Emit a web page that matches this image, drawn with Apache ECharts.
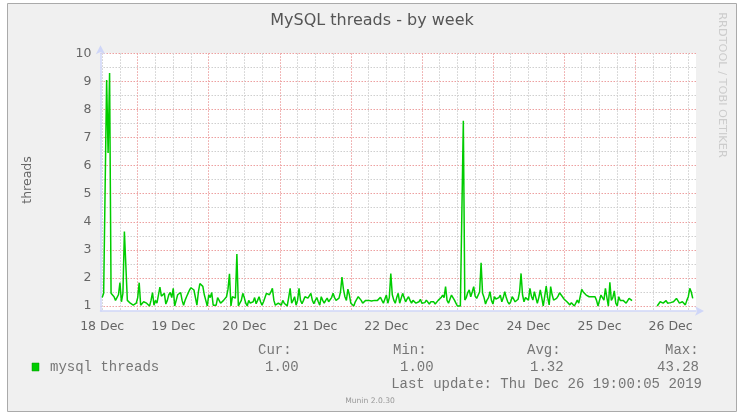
<!DOCTYPE html>
<html>
<head>
<meta charset="utf-8">
<script src="https://cdn.jsdelivr.net/npm/echarts@6/dist/echarts.min.js"></script>
<style>
  html, body { margin: 0; padding: 0; background: #ffffff; }
  #chart { width: 741px; height: 414px; }
</style>
</head>
<body>
<div id="chart"></div>
<script>
// hours since 18 Dec 00:00, one sample every 30 minutes
const startHour = 12;
const stepHours = 0.5;
const threads = [
  1.3, 1.45, 1.4, 9.05, 6.45, 9.3, 1.45, 1.4, 1.33, 1.2,
  1.15, 1.4, 1.83, 1.15, 1.45, 3.65, 3.6, 1.2, 1.15, 1.1,
  1.05, 1.03, 1.1, 1.1, 1.3, 1.83, 1.03, 1.1, 1.15, 1.12,
  1.1, 1.05, 1.0, 1.2, 1.48, 1.03, 1.2, 1.1, 1.03, 1.67,
  1.35, 1.28, 1.45, 1.07, 1.2, 1.4, 1.48, 1.3, 1.63, 1.0,
  1.2, 1.4, 1.45, 1.48, 1.2, 1.03, 1.2, 1.33, 1.45, 1.57,
  1.65, 1.7, 1.57, 1.3, 1.03, 1.5, 1.8, 1.75, 1.7, 1.4,
  1.2, 1.0, 1.4, 1.3, 1.48, 1.03, 1.1, 1.03, 1.3, 1.2,
  1.1, 1.15, 1.2, 1.25, 1.33, 1.6, 2.15, 1.0, 1.33, 1.3,
  1.28, 2.85, 1.0, 1.1, 1.2, 1.45, 1.3, 1.1, 1.0, 1.2,
  1.1, 1.03, 1.15, 1.3, 1.08, 1.2, 1.33, 1.15, 1.03, 1.15,
  1.3, 1.45, 1.4, 1.4, 1.5, 1.63, 1.2, 1.03, 1.05, 1.1,
  1.05, 1.03, 1.2, 1.1, 1.03, 1.0, 1.3, 1.63, 1.1, 1.2,
  1.33, 1.03, 1.2, 1.63, 1.2, 1.08, 1.2, 1.33, 1.3, 1.28,
  1.35, 1.45, 1.2, 1.08, 1.2, 1.3, 1.15, 1.03, 1.33, 1.2,
  1.1, 1.2, 1.28, 1.15, 1.2, 1.3, 1.45, 1.3, 1.2, 1.25,
  1.28, 1.5, 2.03, 1.6, 1.33, 1.2, 1.6, 1.4, 1.1, 1.05,
  1.0, 1.15, 1.2, 1.33, 1.31, 1.2, 1.1, 1.15, 1.2, 1.24,
  1.2, 1.15, 1.18, 1.21, 1.2, 1.15, 1.2, 1.25, 1.31, 1.2,
  1.1, 1.25, 1.39, 1.1, 1.3, 2.16, 1.4, 1.21, 1.1, 1.3,
  1.45, 1.1, 1.07, 1.45, 1.3, 1.15, 1.25, 1.33, 1.2, 1.1,
  1.2, 1.27, 1.1, 1.07, 1.15, 1.24, 1.1, 1.04, 1.12, 1.21,
  1.15, 1.07, 1.15, 1.21, 1.15, 1.07, 1.1, 1.2, 1.21, 1.3,
  1.39, 1.3, 1.69, 1.2, 1.1, 1.25, 1.39, 1.3, 1.21, 1.1,
  1.0, 1.0, 1.0, 1.0, 7.6, 1.21, 1.3, 1.48, 1.57, 1.33,
  1.5, 1.69, 1.35, 1.27, 1.21, 1.5, 2.54, 1.45, 1.3, 1.07,
  1.21, 1.3, 1.51, 1.2, 1.07, 1.33, 1.25, 1.21, 1.3, 1.39,
  1.15, 1.3, 1.51, 1.3, 1.15, 1.07, 1.15, 1.33, 1.25, 1.15,
  1.2, 1.24, 1.5, 2.16, 1.4, 1.15, 1.3, 1.33, 1.21, 1.63,
  1.35, 1.21, 1.51, 1.3, 1.1, 1.3, 1.57, 1.3, 1.0, 1.35,
  1.71, 1.3, 1.04, 1.69, 1.4, 1.21, 1.25, 1.27, 1.35, 1.47,
  1.4, 1.33, 1.25, 1.19, 1.15, 1.1, 1.04, 1.12, 1.19, 1.0,
  1.1, 1.21, 1.1, 1.04, 1.59, 1.5, 1.45, 1.39, 1.35, 1.33,
  1.33, 1.33, 1.33, 1.33, 1.2, 1.0, 1.2, 1.39, 1.3, 1.21,
  1.63, 1.3, 1.0, 1.84, 1.2, 1.3, 1.54, 1.1, 1.0, 1.33,
  1.2, 1.15, 1.2, 1.21, 1.1, 1.15, 1.27, 1.2, 1.19, null,
  null, null, null, null, null, null, null, null, null, null,
  null, null, null, null, null, 1.0, 1.07, 1.15, 1.1, 1.1,
  1.15, 1.19, 1.1, 1.07, 1.12, 1.15, 1.15, 1.2, 1.27, 1.21,
  1.1, 1.04, 1.15, 1.1, 1.04, 1.2, 1.33, 1.63, 1.5, 1.27
];
const dayLabels = ["18 Dec", "19 Dec", "20 Dec", "21 Dec", "22 Dec", "23 Dec", "24 Dec", "25 Dec", "26 Dec"];
const statNames = ["Cur:", "Min:", "Avg:", "Max:"];
const statValues = ["1.00", "1.00", "1.32", "43.28"];

const GREEN = "#00cc00";
const MGRID = "#eda0a0";
const GRID = "#cfcfcf";
const AXIS = "#cfd6f8";
const FONT = "#666666";
const LEGEND_FONT = "#767676";
const SANS = "DejaVu Sans";
const MONO = "Liberation Mono";

// plot box (px)
const plotLeft = 100.5, plotRight = 45, plotTop = 53.3, plotBottom = 103;
const xMin = 11.43, xMax = 212.6;

const points = threads.map((v, i) => [startHour + i * stepHours, v]);

const chart = echarts.init(document.getElementById("chart"));

const statX = [258, 393, 527, 665];
const valX = [265, 400, 530, 657];

const graphic = [
  {
    type: "rect", z: -10, silent: true,
    shape: { x: 7.5, y: 3.5, width: 729, height: 408 },
    style: { fill: "#f0f0f0", stroke: "#aaaaaa", lineWidth: 1 }
  },
  {
    type: "text", x: 372, y: 21,
    style: { text: "MySQL threads - by week", fill: "#555", fontFamily: SANS, fontSize: 16, align: "center", verticalAlign: "middle" }
  },
  {
    type: "text", x: 28, y: 180, rotation: Math.PI / 2,
    style: { text: "threads", fill: FONT, fontFamily: SANS, fontSize: 12.5, align: "center", verticalAlign: "middle" }
  },
  {
    type: "text", x: 722, y: 85, rotation: -Math.PI / 2,
    style: { text: "RRDTOOL / TOBI OETIKER", fill: "#cccccc", fontFamily: SANS, fontSize: 11.3, align: "center", verticalAlign: "middle" }
  },
  {
    type: "rect", shape: { x: 32, y: 363, width: 7, height: 8 },
    style: { fill: GREEN, stroke: "#009900", lineWidth: 0.5 }
  },
  {
    type: "text", x: 50, y: 367,
    style: { text: "mysql threads", fill: LEGEND_FONT, fontFamily: MONO, fontSize: 14, align: "left", verticalAlign: "middle" }
  },
  {
    type: "text", x: 702, y: 384,
    style: { text: "Last update: Thu Dec 26 19:00:05 2019", fill: LEGEND_FONT, fontFamily: MONO, fontSize: 14, align: "right", verticalAlign: "middle" }
  },
  {
    type: "text", x: 370, y: 401,
    style: { text: "Munin 2.0.30", fill: "#999", fontFamily: SANS, fontSize: 7.6, align: "center", verticalAlign: "middle" }
  }
];
statNames.forEach((s, i) => {
  graphic.push({
    type: "text", x: statX[i], y: 350,
    style: { text: s, fill: LEGEND_FONT, fontFamily: MONO, fontSize: 14, align: "left", verticalAlign: "middle" }
  });
  graphic.push({
    type: "text", x: valX[i], y: 367,
    style: { text: statValues[i], fill: LEGEND_FONT, fontFamily: MONO, fontSize: 14, align: "left", verticalAlign: "middle" }
  });
});

const option = {
  animation: false,
  backgroundColor: "#ffffff",
  grid: [
    // data + axis lines
    { left: plotLeft, right: plotRight, top: plotTop, bottom: plotBottom, show: true, backgroundColor: "#ffffff", borderWidth: 0 },
    // vertical grid lines + day labels, starts at 18 Dec 12:00
    { left: 102.17, right: plotRight, top: plotTop, bottom: plotBottom },
    // horizontal grid lines + value labels, 1..10
    { left: plotLeft, right: plotRight, top: plotTop, bottom: 108 }
  ],
  xAxis: [
    {
      gridIndex: 0, type: "value", min: xMin, max: xMax,
      axisLine: { show: true, symbol: ["none", "arrow"], symbolSize: [7, 9], symbolOffset: [0, 8], lineStyle: { color: AXIS, width: 1.5 } },
      axisTick: { show: false }, axisLabel: { show: false }, splitLine: { show: false }
    },
    {
      gridIndex: 1, type: "value", position: "top", min: 12, max: xMax, interval: 6,
      axisLine: { show: false }, axisTick: { show: false }, axisLabel: { show: false },
      splitLine: { show: true, showMaxLine: false, lineStyle: { color: [GRID, GRID, MGRID, GRID], type: [1.5, 1.5], width: 1 } }
    },
    {
      gridIndex: 1, type: "value", position: "bottom", min: 12, max: xMax, interval: 24,
      axisLine: { show: false }, axisTick: { show: false }, splitLine: { show: false },
      axisLabel: {
        color: FONT, fontFamily: SANS, fontSize: 12.5, margin: 9,
        formatter: (v) => {
          const k = (v - 12) / 24;
          return Math.abs(k - Math.round(k)) < 1e-6 ? (dayLabels[Math.round(k)] || "") : "";
        }
      }
    },
    { gridIndex: 2, type: "value", min: xMin, max: xMax, show: false }
  ],
  yAxis: [
    {
      gridIndex: 0, type: "value", min: 0.822, max: 10,
      axisLine: { show: true, symbol: ["none", "arrow"], symbolSize: [7, 9], symbolOffset: [0, 8], lineStyle: { color: AXIS, width: 1.5 } },
      axisTick: { show: false }, axisLabel: { show: false }, splitLine: { show: false }
    },
    { gridIndex: 1, type: "value", min: 0.822, max: 10, show: false },
    {
      gridIndex: 2, type: "value", min: 1, max: 10, interval: 0.5,
      axisLine: { show: false }, axisTick: { show: false },
      axisLabel: {
        color: FONT, fontFamily: SANS, fontSize: 12.5, margin: 9,
        formatter: (v) => (Math.abs(v - Math.round(v)) < 1e-6 ? String(Math.round(v)) : "")
      },
      splitLine: { show: true, lineStyle: { color: [MGRID, GRID], type: [1.5, 1.5], width: 1 } }
    }
  ],
  graphic: graphic,
  series: [
    {
      name: "mysql threads",
      type: "line",
      xAxisIndex: 0,
      yAxisIndex: 0,
      data: points,
      showSymbol: false,
      connectNulls: false,
      z: 5,
      lineStyle: { color: GREEN, width: 1.5 }
    }
  ]
};

chart.setOption(option);
</script>
</body>
</html>
